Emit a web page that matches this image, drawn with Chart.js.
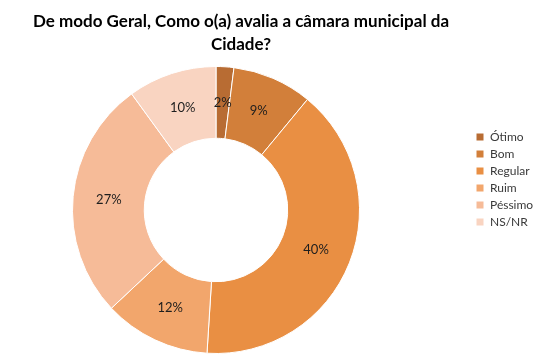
<!DOCTYPE html>
<html>
<head>
<meta charset="utf-8">
<script src="https://cdn.jsdelivr.net/npm/chart.js@4"></script>
<style>
html,body{margin:0;padding:0;background:#fff;}
#wrap{width:540px;height:356px;position:relative;}
</style>
</head>
<body>
<div id="wrap"><canvas id="c" width="540" height="356"></canvas></div>
<script>
const categories = ['Ótimo', 'Bom', 'Regular', 'Ruim', 'Péssimo', 'NS/NR'];
const values = [2, 9, 40, 12, 27, 10];
const colors = ['#b86c33', '#d27f3a', '#e98f43', '#f2a66c', '#f6bb98', '#f9d4c1'];
const titleLines = ['De modo Geral, Como o(a) avalia a câmara municipal da', 'Cidade?'];

const FONT = 'Lato, "Open Sans", sans-serif';

const sliceLabels = {
  id: 'sliceLabels',
  afterDatasetsDraw(chart) {
    const ctx = chart.ctx;
    const meta = chart.getDatasetMeta(0);
    ctx.save();
    ctx.font = '13px ' + FONT;
    ctx.fillStyle = '#1e1e1e';
    ctx.textAlign = 'center';
    ctx.textBaseline = 'middle';
    meta.data.forEach((arc, i) => {
      const p = arc.tooltipPosition();
      ctx.fillText(values[i] + '%', p.x, p.y);
    });
    ctx.restore();
  }
};

const legendPlace = {
  id: 'legendPlace',
  afterLayout(chart) {
    const lg = chart.legend;
    if (!lg) return;
    lg.left = 471;
    lg.right = 540;
    lg.width = 69;
    lg.top = 126;
    lg.bottom = 240;
    lg.height = 114;
  }
};

new Chart(document.getElementById('c'), {
  type: 'doughnut',
  data: {
    labels: categories,
    datasets: [{
      data: values,
      backgroundColor: colors,
      borderColor: '#ffffff',
      borderWidth: 1
    }]
  },
  options: {
    responsive: false,
    animation: false,
    cutout: '50%',
    layout: { padding: { left: 0, right: 58, top: 0, bottom: 2 } },
    plugins: {
      title: {
        display: true,
        text: titleLines,
        color: '#000000',
        font: { family: FONT, size: 17, weight: 'bold', lineHeight: 1.35 },
        padding: { top: 10.5, bottom: 9.6 }
      },
      legend: {
        display: true,
        position: 'right',
        align: 'start',
        maxWidth: 50,
        labels: {
          boxWidth: 8,
          boxHeight: 8,
          padding: 5,
          color: '#3a3a3a',
          font: { family: FONT, size: 12 }
        }
      },
      tooltip: { enabled: false }
    }
  },
  plugins: [sliceLabels, legendPlace]
});
</script>
</body>
</html>
